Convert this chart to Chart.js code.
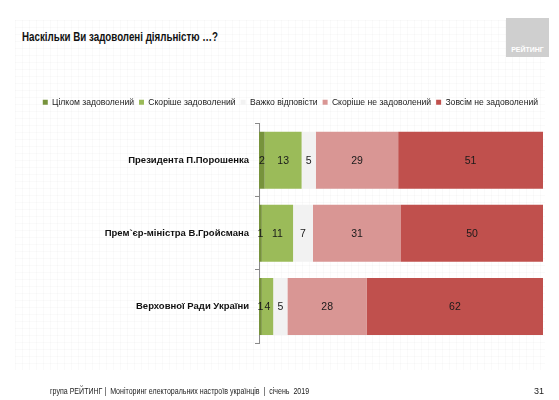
<!DOCTYPE html>
<html>
<head>
<meta charset="utf-8">
<script src="https://cdn.jsdelivr.net/npm/chart.js@4"></script>
<style>
  html, body { margin:0; padding:0; background:#fff; }
  #wrap { position:relative; width:559px; height:400px; overflow:hidden;
    font-family:"Liberation Sans",Arial,sans-serif; }
  #bg { position:absolute; left:15px; top:20px; width:530px; height:350px;
    background-image: linear-gradient(to right, rgba(0,0,0,0.02) 1px, transparent 1px),
                      linear-gradient(to bottom, rgba(0,0,0,0.02) 1px, transparent 1px);
    background-size: 7px 7px; }
  #title { position:absolute; left:22px; top:30px; font-weight:bold; font-size:12.5px; color:#111; white-space:nowrap;
    transform:scaleX(0.78); transform-origin:left top; }
  #logo { position:absolute; left:506px; top:18px; width:43px; height:39px; background:#cfcfcf; }
  #logo span { position:absolute; left:0; right:0; bottom:4px; text-align:center; color:#fff; font-weight:bold; font-size:7px; }
  #footer { position:absolute; left:50px; top:386px; font-size:8.5px; color:#222; white-space:pre;
    transform:scaleX(0.83); transform-origin:left top; }
  #page { position:absolute; left:534px; top:386px; font-size:9px; color:#222; }
  canvas { position:absolute; left:0; top:0; }
</style>
</head>
<body>
<div id="wrap">
  <div id="bg"></div>
  <div id="title">Наскільки Ви задоволені діяльністю …?</div>
  <div id="logo"><span>РЕЙТИНГ</span></div>
  <canvas id="c" width="559" height="400"></canvas>
  <div id="footer">група РЕЙТИНГ |  Моніторинг електоральних настроїв українців  |  січень  2019</div>
  <div id="page">31</div>
</div>
<script>
const categories = ["Президента П.Порошенка", "Прем`єр-міністра В.Гройсмана", "Верховної Ради України"];
const seriesNames = ["Цілком задоволений", "Скоріше задоволений", "Важко відповісти", "Скоріше не задоволений", "Зовсім не задоволений"];
const fullySatisfied = [2, 1, 1];
const ratherSatisfied = [13, 11, 4];
const hardToSay = [5, 7, 5];
const ratherNotSatisfied = [29, 31, 28];
const notSatisfied = [51, 50, 62];
const colors = ["#77933c", "#9bbb59", "#f2f2f2", "#d99694", "#c0504d"];

const FONT = "'Liberation Sans',Arial,sans-serif";
const seriesData = [fullySatisfied, ratherSatisfied, hardToSay, ratherNotSatisfied, notSatisfied];

const labelPlugin = {
  id: 'segLabels',
  afterDatasetsDraw(chart) {
    const ctx = chart.ctx;
    ctx.save();
    ctx.font = "10.5px " + FONT;
    ctx.fillStyle = "#1a1a1a";
    ctx.textAlign = "center";
    ctx.textBaseline = "middle";
    chart.data.datasets.forEach((ds, i) => {
      const meta = chart.getDatasetMeta(i);
      meta.data.forEach((el, j) => {
        const p = el.getProps(['x', 'y', 'base'], true);
        ctx.fillText(String(ds.data[j]), (p.x + p.base) / 2, p.y + 1);
      });
    });
    ctx.restore();
  }
};

const legendGap = {
  id: 'legendGap',
  beforeInit(chart) {
    const fit = chart.legend.fit;
    chart.legend.fit = function () {
      fit.bind(chart.legend)();
      this.height += 7;
    };
  }
};

new Chart(document.getElementById('c'), {
  type: 'bar',
  data: {
    labels: categories,
    datasets: seriesNames.map((n, i) => ({
      label: n,
      data: seriesData[i],
      backgroundColor: colors[i],
      borderWidth: 0,
      barPercentage: 0.78,
      categoryPercentage: 1.0
    }))
  },
  options: {
    indexAxis: 'y',
    responsive: false,
    animation: false,
    devicePixelRatio: 1,
    layout: { padding: { left: 0, right: 16, top: 93, bottom: 57 } },
    plugins: {
      tooltip: { enabled: false },
      legend: {
        position: 'top',
        align: 'end',
        labels: {
          boxWidth: 5, boxHeight: 5, padding: 5,
          color: '#222',
          font: { size: 8.6, family: FONT }
        }
      }
    },
    scales: {
      x: { stacked: true, min: 0, max: 100, display: false },
      y: {
        stacked: true,
        border: { display: true, color: '#8a8a8a', width: 1 },
        grid: { display: true, offset: true, drawOnChartArea: false, drawTicks: true, tickLength: 4, color: '#8a8a8a' },
        ticks: { color: '#111', font: { size: 9.5, weight: 'bold', family: FONT }, padding: 6 },
        afterFit(scale) { scale.width = 259; }
      }
    }
  },
  plugins: [labelPlugin, legendGap]
});
</script>
</body>
</html>
